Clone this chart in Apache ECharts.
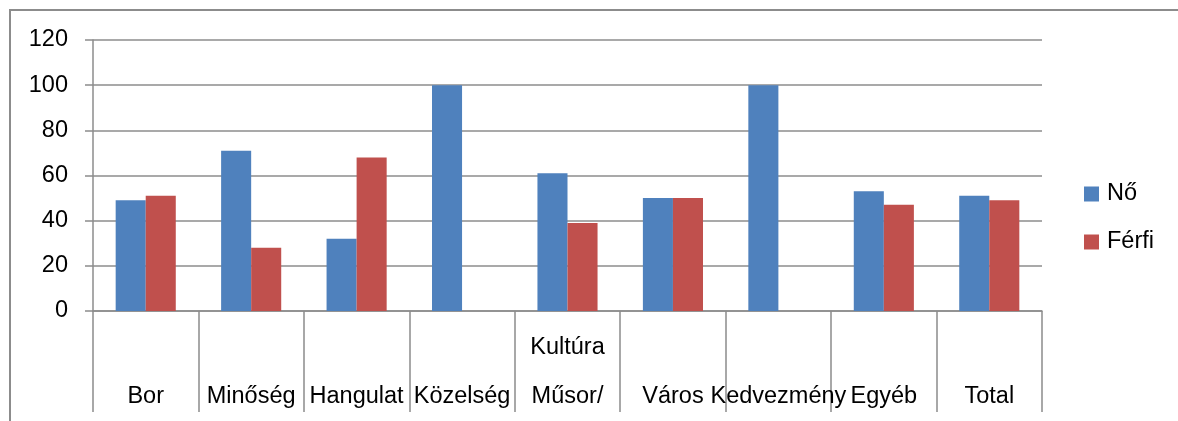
<!DOCTYPE html>
<html>
<head>
<meta charset="utf-8">
<script src="https://cdn.jsdelivr.net/npm/echarts@6/dist/echarts.min.js"></script>
<style>
  html, body { margin: 0; padding: 0; background: #fff; }
  #chart { width: 1178px; height: 421px; }
</style>
</head>
<body>
<div id="chart"></div>
<script>
// Categories and values per gender (percent)
const categories = ['Bor', 'Minőség', 'Hangulat', 'Közelség', 'Kultúra\nMűsor/', 'Város', 'Kedvezmény', 'Egyéb', 'Total'];
const seriesNames = ['Nő', 'Férfi'];
const noValues = [49, 71, 32, 100, 61, 50, 100, 53, 51];
const ferfiValues = [51, 28, 68, 0, 39, 50, 0, 47, 49];
const yTicks = { min: 0, max: 120, interval: 20 };

const FONT = 'Liberation Sans';
const FONT_SIZE = 23.5;
const GRID_COLOR = '#8c8c8c';

const chart = echarts.init(document.getElementById('chart'), null, { renderer: 'canvas' });

chart.setOption({
  animation: false,
  backgroundColor: '#ffffff',
  textStyle: { fontFamily: FONT },
  graphic: [{
    type: 'rect',
    shape: { x: 10, y: 10, width: 1200, height: 440 },
    style: { fill: 'none', stroke: '#8c8c8c', lineWidth: 2 },
    silent: true,
    z: -1
  }],
  grid: { left: 93, right: 136, top: 40, bottom: 110, containLabel: false },
  legend: {
    orient: 'vertical',
    left: 1084,
    top: 182,
    padding: 0,
    itemWidth: 15,
    itemHeight: 15,
    itemGap: 24,
    icon: 'rect',
    textStyle: { fontFamily: FONT, fontSize: FONT_SIZE, lineHeight: 24, color: '#000', padding: [0, 0, 0, 3] },
    data: seriesNames
  },
  xAxis: {
    type: 'category',
    data: categories,
    axisLine: { show: true, lineStyle: { color: GRID_COLOR, width: 1.5 } },
    axisTick: { show: true, length: 101, alignWithLabel: false, lineStyle: { color: GRID_COLOR, width: 1.5 } },
    axisLabel: {
      interval: 0,
      hideOverlap: false,
      fontFamily: FONT,
      fontSize: FONT_SIZE,
      color: '#000',
      lineHeight: 49,
      verticalAlign: 'bottom',
      margin: 110
    },
    splitLine: { show: false }
  },
  yAxis: {
    type: 'value',
    min: yTicks.min,
    max: yTicks.max,
    interval: yTicks.interval,
    axisLine: { show: true, lineStyle: { color: GRID_COLOR, width: 1.5 } },
    axisTick: { show: true, length: 8, lineStyle: { color: GRID_COLOR, width: 1.5 } },
    axisLabel: { fontFamily: FONT, fontSize: FONT_SIZE, color: '#000', margin: 25 },
    splitLine: { show: true, lineStyle: { color: GRID_COLOR, width: 1.5 } }
  },
  series: [
    {
      name: seriesNames[0],
      type: 'bar',
      data: noValues,
      barGap: '0%',
      barCategoryGap: '43%',
      itemStyle: { color: '#4F81BD' }
    },
    {
      name: seriesNames[1],
      type: 'bar',
      data: ferfiValues,
      barGap: '0%',
      barCategoryGap: '43%',
      itemStyle: { color: '#C0504D' }
    }
  ]
});
</script>
</body>
</html>
